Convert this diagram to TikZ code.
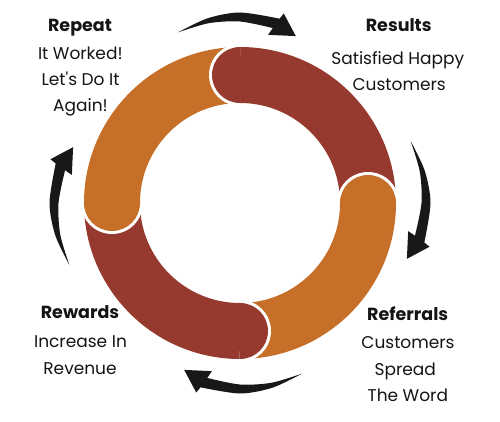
\documentclass[tikz,border=0pt]{standalone}
\usepackage{fontspec}
\setmainfont{Poppins}
\definecolor{ringred}{RGB}{150,58,48}
\definecolor{ringorange}{RGB}{197,111,40}
\definecolor{arrowblack}{RGB}{24,24,24}
\definecolor{txt}{RGB}{20,20,20}
\begin{document}
\begin{tikzpicture}[x=1pt,y=1pt,
  band/.style={line width=56pt},
  headtxt/.style={font=\fontsize{17.5}{17.5}\selectfont\bfseries, anchor=base, text=txt, inner sep=0pt},
  bodytxt/.style={font=\fontsize{17}{17}\selectfont, anchor=base, text=txt, inner sep=0pt},
  arrowfill/.style={fill=arrowblack}]
\useasboundingbox (0,0) rectangle (500,421);
\coordinate (O) at (240,218);
% ring bands (clockwise from each cardinal point)
\draw[band, ringred]    (O) ++(90:128)  arc[start angle=90,  end angle=0,    radius=128];
\draw[band, ringorange] (O) ++(0:128)   arc[start angle=0,   end angle=-90,  radius=128];
\draw[band, ringred]    (O) ++(-90:128) arc[start angle=-90, end angle=-180, radius=128];
\draw[band, ringorange] (O) ++(180:128) arc[start angle=180, end angle=90,   radius=128];
% rounded starting caps with white rim
\foreach \a/\col in {90/ringred, 0/ringorange, -90/ringred, 180/ringorange}{
  \begin{scope}[shift={(O)}, rotate=\a]
    \begin{scope}
      \clip (90,0.5) rectangle (170,40);
      \fill[white] (128,0) circle (31);
    \end{scope}
    \begin{scope}
      \clip (90,-0.5) rectangle (170,40);
      \fill[\col] (128,0) circle (28);
    \end{scope}
  \end{scope}
}
% curved tapered arrows
\foreach \c in {90,0,-90,180}{
  \begin{scope}[shift={(O)}, rotate=\c]
    \fill[arrowfill] plot[smooth] coordinates {(20:181.5) (10:187.5) (0:190.5) (-12.1:188.5)}
      -- (-13:194.5) -- (-18.5:176) -- (-9.5:170.5)
      -- plot[smooth] coordinates {(-10.6:178) (0:181.5) (10:182.5) (20:181.5)} -- cycle;
  \end{scope}
}
% texts
\node[headtxt] (h1) at (80,389.3) {Repeat};
\node[bodytxt] (b11) at (80.3,361.7) {It Worked!};
\node[bodytxt] (b12) at (80.5,335) {Let\textquotesingle s Do It};
\node[bodytxt] (b13) at (80.5,309.3) {Again!};
\node[headtxt] (h2) at (398.7,389.3) {Results};
\node[bodytxt] (b21) at (397.8,356.5) {Satisfied Happy};
\node[bodytxt] (b22) at (399.2,330) {Customers};
\node[headtxt] (h3) at (407.7,101) {Referrals};
\node[bodytxt] (b31) at (408,72.7) {Customers};
\node[bodytxt] (b32) at (405.3,46) {Spread};
\node[bodytxt] (b33) at (407.8,20) {The Word};
\node[headtxt] (h4) at (80,102.7) {Rewards};
\node[bodytxt] (b41) at (80.5,73.7) {Increase In};
\node[bodytxt] (b42) at (80,47) {Revenue};
\end{tikzpicture}
\end{document}
